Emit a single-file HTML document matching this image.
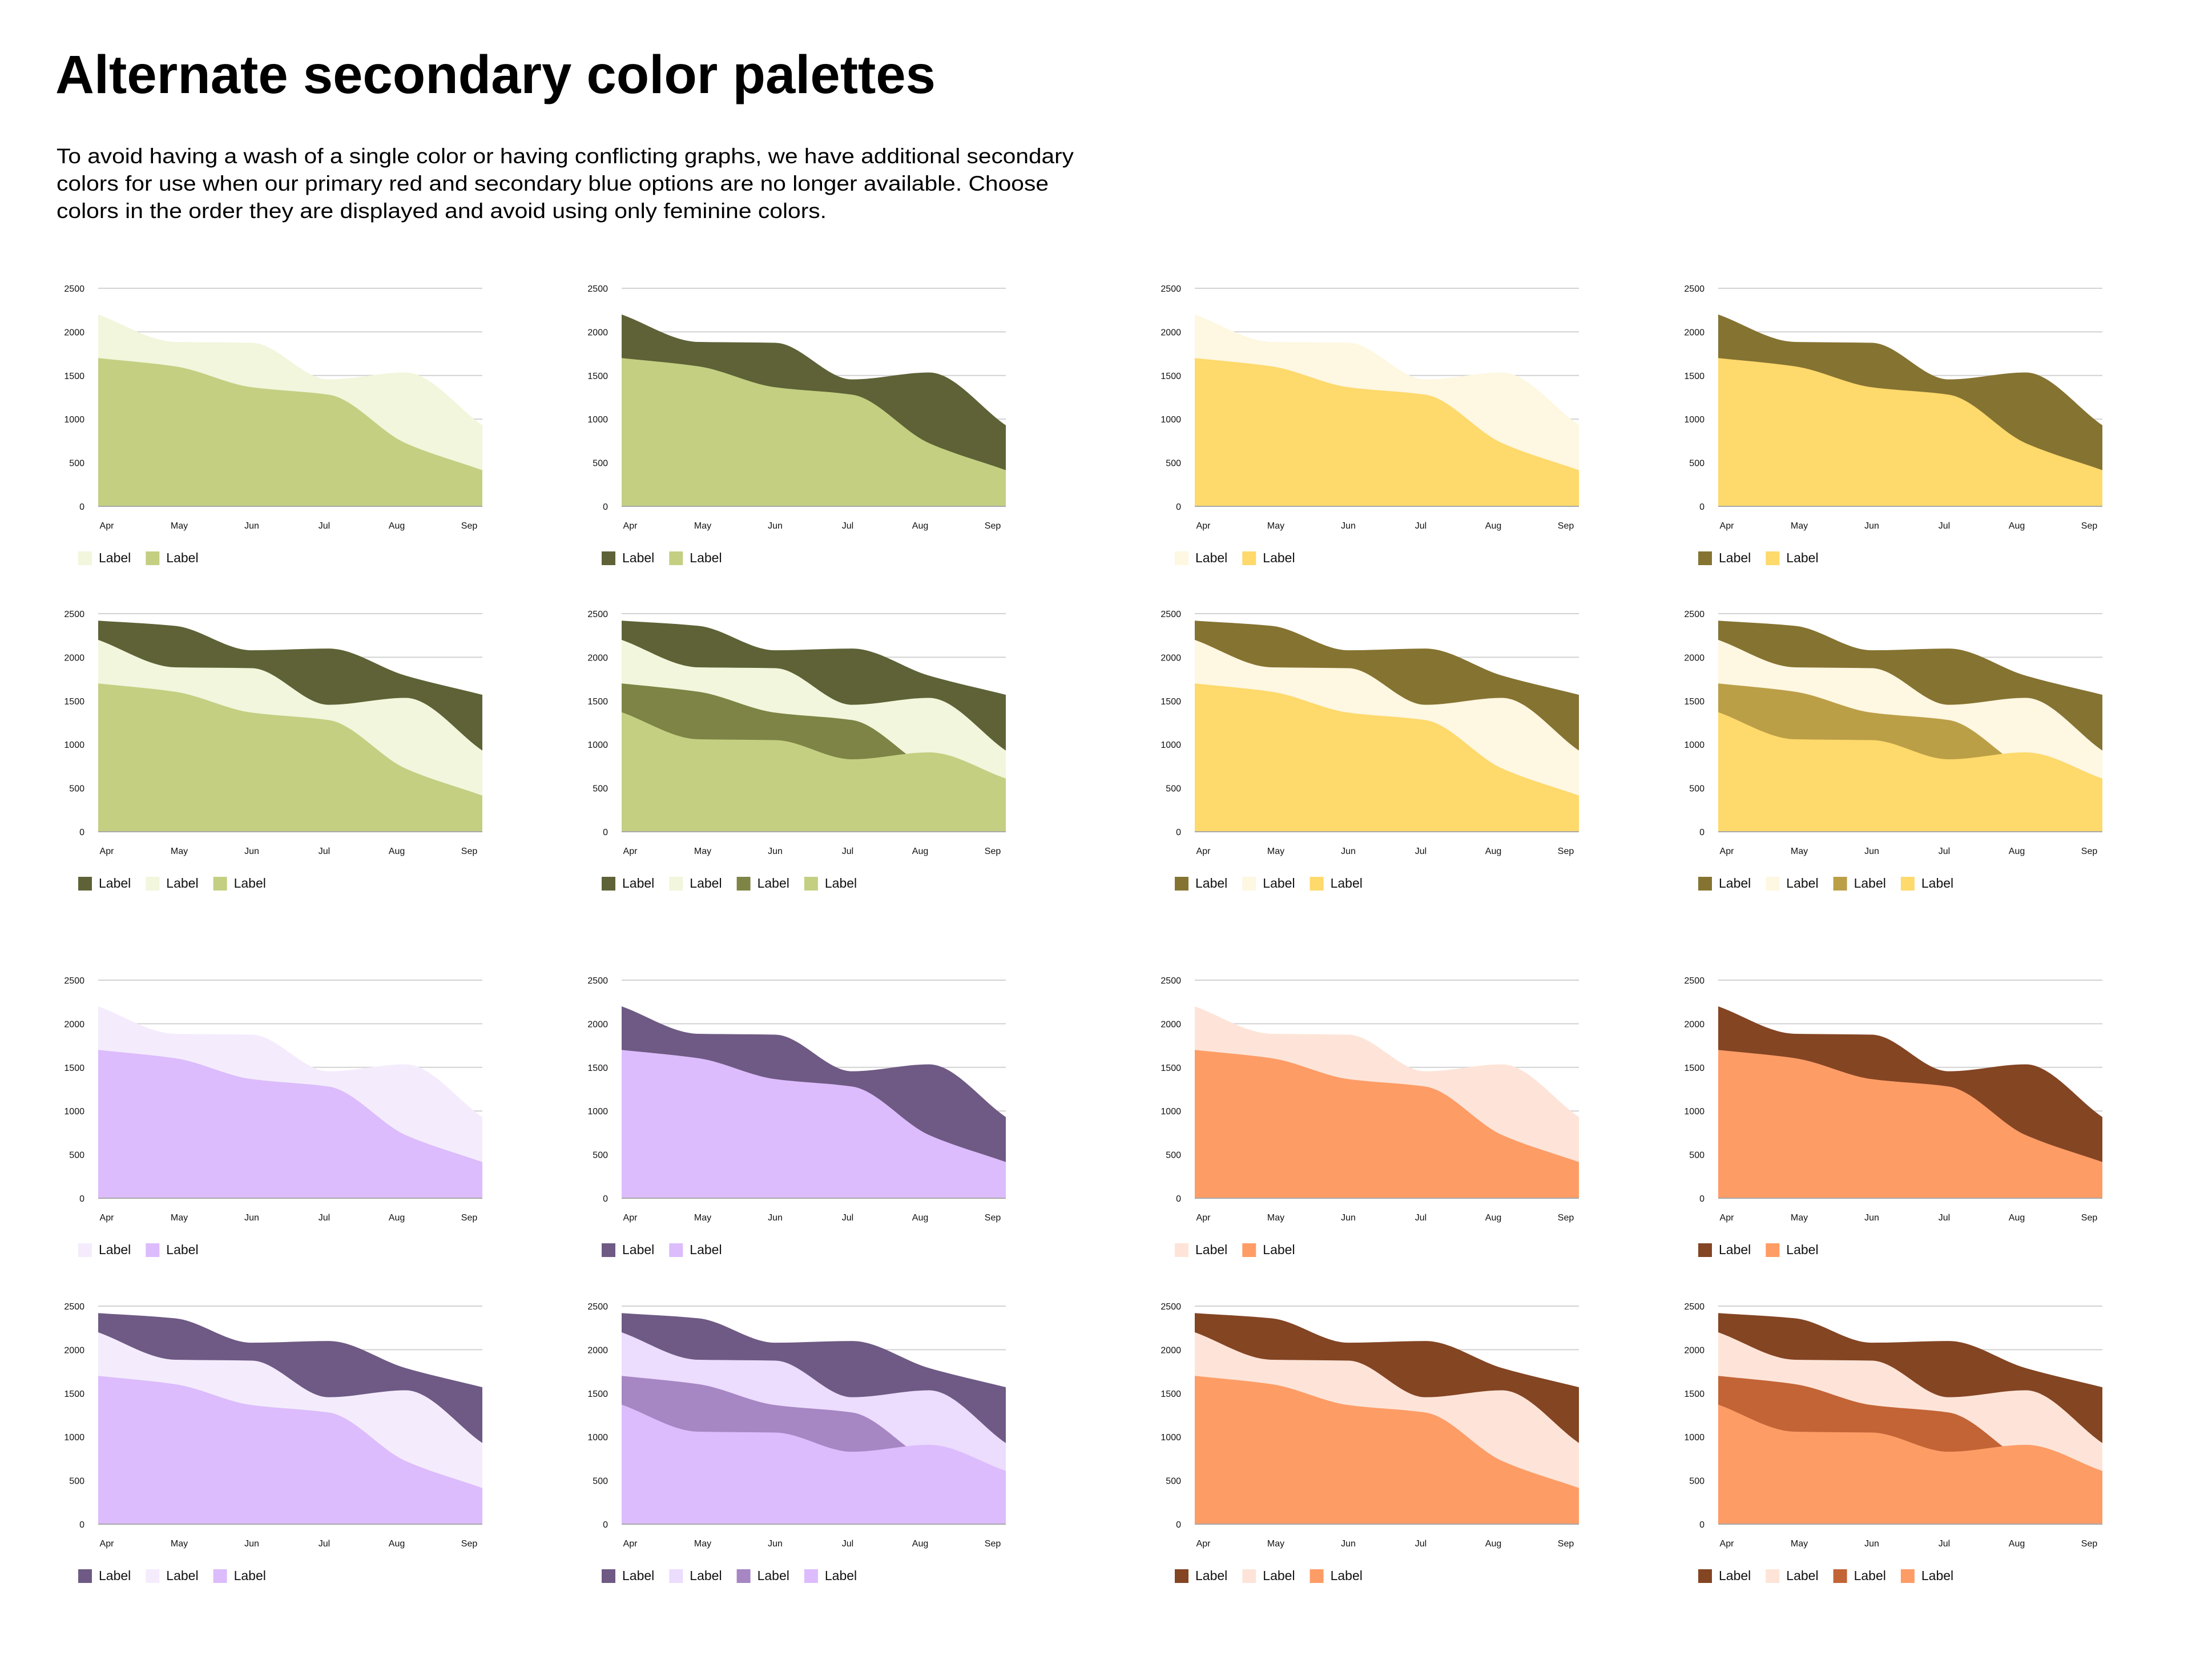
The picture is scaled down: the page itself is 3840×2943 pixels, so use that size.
<!DOCTYPE html>
<html><head><meta charset="utf-8"><title>Alternate secondary color palettes</title>
<style>
html,body{margin:0;padding:0;background:#fff;}
svg{display:block;}
</style></head>
<body>
<svg id="page" width="3840" height="2943" viewBox="0 0 3840 2943" xmlns="http://www.w3.org/2000/svg" font-family="'Liberation Sans', sans-serif">
  <text x="97" y="163" font-size="95" font-weight="bold" fill="#000" textLength="1542" lengthAdjust="spacingAndGlyphs">Alternate secondary color palettes</text>
  <g font-size="37" fill="#000">
    <text x="99" y="286" textLength="1782" lengthAdjust="spacingAndGlyphs">To avoid having a wash of a single color or having conflicting graphs, we have additional secondary</text>
    <text x="99" y="334" textLength="1738" lengthAdjust="spacingAndGlyphs">colors for use when our primary red and secondary blue options are no longer available. Choose</text>
    <text x="99" y="382" textLength="1349" lengthAdjust="spacingAndGlyphs">colors in the order they are displayed and avoid using only feminine colors.</text>
  </g>
  <g id="charts"></g>
</svg>
<script>
// ---- data ----
const months = ["Apr","May","Jun","Jul","Aug","Sep"];
const yTicks = [0,500,1000,1500,2000,2500];
const seriesA = [2420,2360,2080,2100,1790,1570];
const seriesB = [2200,1885,1875,1455,1535,930];
const seriesC = [1700,1605,1365,1280,725,415];
const seriesD = [1370,1060,1050,830,910,610];
const legendText = "Label";

// palettes
const green  = {dark:"#5e6236", light:"#f1f6dc", mid:"#7e8445", base:"#c4cf82"};
const yellow = {dark:"#857331", light:"#fef7e1", mid:"#bb9f47", base:"#fed96b"};
const purple = {dark:"#6e5a84", light:"#f4ecfd", light4:"#ecdcfe", mid:"#a686c3", base:"#dcbcfc"};
const orange = {dark:"#844523", light:"#fee4d8", mid:"#c36436", base:"#fe9c66"};

const colLeft = [172,1089,2093,3010];
const rowTop = [505,1075,1717,2288];
const plotW = 673, plotH = 382, yMax = 2500;

const panels = [
  {r:0,c:0,name:"green-light",s:[[seriesB,green.light],[seriesC,green.base]]},
  {r:0,c:1,name:"green-dark",s:[[seriesB,green.dark],[seriesC,green.base]]},
  {r:0,c:2,name:"yellow-light",s:[[seriesB,yellow.light],[seriesC,yellow.base]]},
  {r:0,c:3,name:"yellow-dark",s:[[seriesB,yellow.dark],[seriesC,yellow.base]]},
  {r:1,c:0,name:"green-three",s:[[seriesA,green.dark],[seriesB,green.light],[seriesC,green.base]]},
  {r:1,c:1,name:"green-four",s:[[seriesA,green.dark],[seriesB,green.light],[seriesC,green.mid],[seriesD,green.base]]},
  {r:1,c:2,name:"yellow-three",s:[[seriesA,yellow.dark],[seriesB,yellow.light],[seriesC,yellow.base]]},
  {r:1,c:3,name:"yellow-four",s:[[seriesA,yellow.dark],[seriesB,yellow.light],[seriesC,yellow.mid],[seriesD,yellow.base]]},
  {r:2,c:0,name:"purple-light",s:[[seriesB,purple.light],[seriesC,purple.base]]},
  {r:2,c:1,name:"purple-dark",s:[[seriesB,purple.dark],[seriesC,purple.base]]},
  {r:2,c:2,name:"orange-light",s:[[seriesB,orange.light],[seriesC,orange.base]]},
  {r:2,c:3,name:"orange-dark",s:[[seriesB,orange.dark],[seriesC,orange.base]]},
  {r:3,c:0,name:"purple-three",s:[[seriesA,purple.dark],[seriesB,purple.light],[seriesC,purple.base]]},
  {r:3,c:1,name:"purple-four",s:[[seriesA,purple.dark],[seriesB,purple.light4],[seriesC,purple.mid],[seriesD,purple.base]]},
  {r:3,c:2,name:"orange-three",s:[[seriesA,orange.dark],[seriesB,orange.light],[seriesC,orange.base]]},
  {r:3,c:3,name:"orange-four",s:[[seriesA,orange.dark],[seriesB,orange.light],[seriesC,orange.mid],[seriesD,orange.base]]}
];

const NS = "http://www.w3.org/2000/svg";
function mk(tag, attrs, parent){
  const e = document.createElementNS(NS, tag);
  for (const k in attrs) e.setAttribute(k, attrs[k]);
  parent.appendChild(e);
  return e;
}
// monotone cubic path through points
function monotonePath(pts){
  const n = pts.length, d = [], m = [];
  for (let i=0;i<n-1;i++) d.push((pts[i+1][1]-pts[i][1])/(pts[i+1][0]-pts[i][0]));
  m[0]=d[0]; m[n-1]=d[n-2];
  for (let i=1;i<n-1;i++){
    if (d[i-1]*d[i] <= 0) m[i]=0;
    else m[i] = 3*(d[i-1]+d[i]) / ( (2*d[i]+d[i-1])/d[i-1] + (d[i]+2*d[i-1])/d[i] );
  }
  let p = "M"+pts[0][0]+","+pts[0][1];
  for (let i=0;i<n-1;i++){
    const h = (pts[i+1][0]-pts[i][0])/3;
    p += " C"+(pts[i][0]+h)+","+(pts[i][1]+m[i]*h)+" "+(pts[i+1][0]-h)+","+(pts[i+1][1]-m[i+1]*h)+" "+pts[i+1][0]+","+pts[i+1][1];
  }
  return p;
}

const root = document.getElementById("charts");
panels.forEach(function(pn){
  const L = colLeft[pn.c], T = rowTop[pn.r], B = T + plotH;
  const xs = function(i){ return L + i*plotW/(months.length-1); };
  const ys = function(v){ return B - v/yMax*plotH; };
  const g = mk("g", {}, root);
  
  
  // grid + y labels
  yTicks.forEach(function(t){
    if (t > 0) {
      const gl = mk("line", {x1:L, x2:L+plotW, y1:ys(t), y2:ys(t), stroke:"#d2d2d2", "stroke-width":2}, g);
      
      
    }
    const tl = mk("text", {x:L-24, y:ys(t)+6, "text-anchor":"end", "font-size":16, fill:"#111"}, g);
    
    
    tl.textContent = t;
  });
  // areas
  pn.s.forEach(function(sv){
    const pts = sv[0].map(function(v,i){ return [xs(i), ys(v)]; });
    const d = monotonePath(pts) + " L"+xs(months.length-1)+","+B+" L"+L+","+B+" Z";
    const a = mk("path", {d:d, fill:sv[1]}, g);
    
    
  });
  const base = mk("line", {x1:L, x2:L+plotW, y1:B, y2:B, stroke:"#a9a9a9", "stroke-width":2}, g);
  
  
  // x labels
  months.forEach(function(mo,i){
    const xl = mk("text", {x:L+15+i*(plotW-38)/(months.length-1), y:B+39, "text-anchor":"middle", "font-size":16, fill:"#111"}, g);
    
    
    xl.textContent = mo;
  });
  // legend
  pn.s.forEach(function(sv,k){
    const lx = L - 35 + k*118.3;
    const lg = mk("g", {}, g);
    
    
    mk("rect", {x:lx, y:B+79, width:24, height:24, fill:sv[1]}, lg);
    const lt = mk("text", {x:lx+36, y:B+98, "font-size":23, fill:"#111"}, lg);
    lt.textContent = legendText;
  });
});
</script>
</body></html>
